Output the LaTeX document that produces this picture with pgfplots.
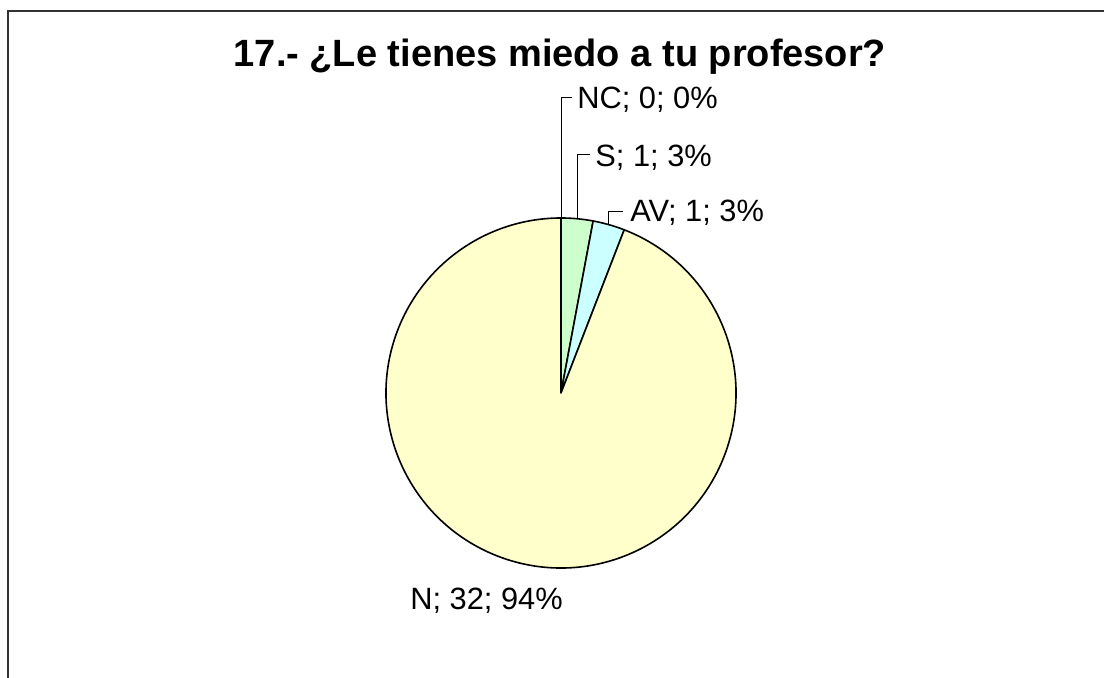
\documentclass[border=0pt]{standalone}
\usepackage{pgfplots}
\usepackage{pgfplotstable}
\usepackage{fontspec}
\setmainfont{Liberation Sans}
\pgfplotsset{compat=1.18}

\definecolor{cS}{HTML}{CCFFCC}
\definecolor{cAV}{HTML}{CCFFFF}
\definecolor{cN}{HTML}{FFFFCC}
\definecolor{frame}{HTML}{333333}

\pgfplotstableread{
label value
NC 0
S 1
AV 1
N 32
}\piedata

\pgfplotstablegetelem{0}{value}\of\piedata\edef\vNC{\pgfplotsretval}
\pgfplotstablegetelem{1}{value}\of\piedata\edef\vS{\pgfplotsretval}
\pgfplotstablegetelem{2}{value}\of\piedata\edef\vAV{\pgfplotsretval}
\pgfplotstablegetelem{3}{value}\of\piedata\edef\vN{\pgfplotsretval}
\pgfmathsetmacro\tot{\vNC+\vS+\vAV+\vN}
% angles, clockwise from 12 o'clock
\pgfmathsetmacro\aA{90}
\pgfmathsetmacro\aB{\aA-360*\vNC/\tot}
\pgfmathsetmacro\aC{\aB-360*\vS/\tot}
\pgfmathsetmacro\aD{\aC-360*\vAV/\tot}
\pgfmathsetmacro\aE{\aD-360*\vN/\tot}
\pgfmathsetmacro\mS{(\aB+\aC)/2}
\pgfmathsetmacro\mAV{(\aC+\aD)/2}
\def\R{87.5pt}

\begin{document}
\begin{tikzpicture}
\begin{axis}[
    hide axis, scale only axis,
    width=552pt, height=339pt,
    xmin=0, xmax=1104, ymin=0, ymax=678,
    at={(0,0)}, anchor=south west, clip=false]
% outer frame (cut by the page on the right and bottom)
\draw[frame, line width=1pt] (axis cs:8,-10) -- (axis cs:8,667) -- (axis cs:1120,667);
% title
\node[anchor=base, inner sep=0pt, font=\bfseries\fontsize{19}{23}\selectfont]
  at (axis cs:560,611) {17.- ¿Le tienes miedo a tu profesor?};
% wedges
\filldraw[fill=cS, draw=black, line width=0.8pt, line join=round]
  (axis cs:561,285) -- ++(\aB:\R) arc[start angle=\aB, end angle=\aC, radius=\R] -- cycle;
\filldraw[fill=cAV, draw=black, line width=0.8pt, line join=round]
  (axis cs:561,285) -- ++(\aC:\R) arc[start angle=\aC, end angle=\aD, radius=\R] -- cycle;
\filldraw[fill=cN, draw=black, line width=0.8pt, line join=round]
  (axis cs:561,285) -- ++(\aD:\R) arc[start angle=\aD, end angle=\aE, radius=\R] -- cycle;
\draw[black, line width=0.8pt] (axis cs:561,285) -- ++(\aA:\R);
% leader lines
\draw[black, line width=0.5pt] (axis cs:561,285) ++(\aA:\R) |- (axis cs:572,580);
\draw[black, line width=0.5pt] (axis cs:561,285) ++(\mS:\R) |- (axis cs:590,523);
\draw[black, line width=0.5pt] (axis cs:561,285) ++(\mAV:\R) |- (axis cs:623,466);
% labels
\begin{scope}[every node/.style={inner sep=0pt, font=\fontsize{15.4}{18}\selectfont}]
\node[anchor=base west] at (axis cs:577,569) {NC; 0; 0\%};
\node[anchor=base west] at (axis cs:595,511) {S; 1; 3\%};
\node[anchor=base west] at (axis cs:630,456) {AV; 1; 3\%};
\node[anchor=base west] at (axis cs:410,68) {N; 32; 94\%};
\end{scope}
\end{axis}
\pgfresetboundingbox
\useasboundingbox (0,0) rectangle (552pt,339pt);
\end{tikzpicture}
\end{document}
